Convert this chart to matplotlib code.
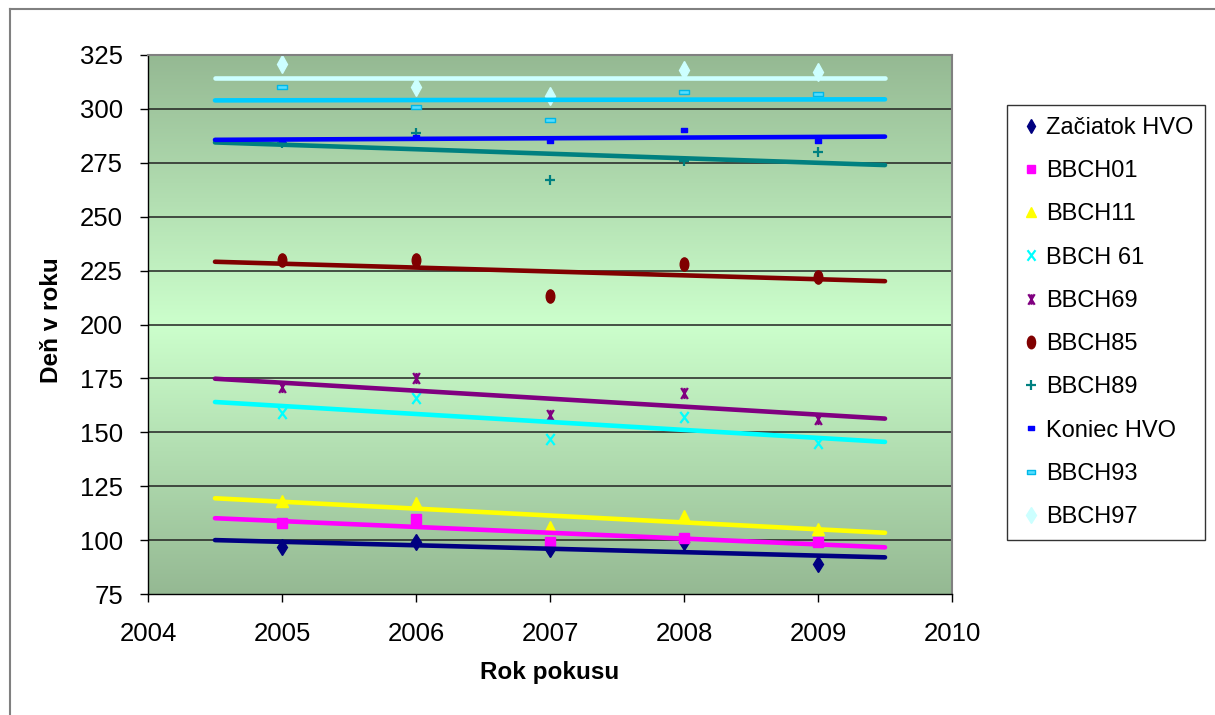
import numpy as np
import matplotlib
matplotlib.use("Agg")
import matplotlib.pyplot as plt
from matplotlib.path import Path
from matplotlib.lines import Line2D
from matplotlib.colors import LinearSegmentedColormap

plt.rcParams['font.family'] = ['Liberation Sans', 'DejaVu Sans']

years = [2005, 2006, 2007, 2008, 2009]

zaciatok_hvo = [97, 99, 96, 99, 89]
bbch01 = [108, 110, 99, 101, 99]
bbch11 = [118, 117, 106, 111, 105]
bbch61 = [159, 166, 147, 157, 145]
bbch69 = [171, 175, 158, 168, 156]
bbch85 = [230, 230, 213, 228, 222]
bbch89 = [284, 289, 267, 276, 280]
koniec_hvo = [285, 287, 285, 290, 285]
bbch93 = [310, 301, 295, 308, 307]
bbch97 = [321, 310, 306, 318, 317]

names = ['Začiatok HVO', 'BBCH01', 'BBCH11', 'BBCH 61', 'BBCH69',
         'BBCH85', 'BBCH89', 'Koniec HVO', 'BBCH93', 'BBCH97']
series = [zaciatok_hvo, bbch01, bbch11, bbch61, bbch69,
          bbch85, bbch89, koniec_hvo, bbch93, bbch97]
colors = ['#000080', '#FF00FF', '#FFFF00', '#00FFFF', '#800080',
          '#800000', '#008080', '#0000FF', '#00CCFF', '#CCFFFF']

x_ticks = [2004, 2005, 2006, 2007, 2008, 2009, 2010]
y_ticks = [75, 100, 125, 150, 175, 200, 225, 250, 275, 300, 325]


# excel-like markers (slightly stretched vertically like in the picture)
def rect(w, h):
    return Path([(-w, -h), (w, -h), (w, h), (-w, h), (-w, -h)],
                [Path.MOVETO, Path.LINETO, Path.LINETO, Path.LINETO, Path.CLOSEPOLY])

M, L = Path.MOVETO, Path.LINETO
star = Path([(-0.6, -1), (0.6, 1), (-0.6, 1), (0.6, -1), (0, -1), (0, 1)], [M, L, M, L, M, L])
cross = Path([(-0.75, -1), (0.75, 1), (-0.75, 1), (0.75, -1)], [M, L, M, L])
circ = Path.unit_circle()
ellipse = Path(circ.vertices * [0.65, 1.0], circ.codes)

styles = [
    dict(marker='d', ms=8, mfc='#000080', mec='#000080'),
    dict(marker='s', ms=6.5, mfc='#FF00FF', mec='#FF00FF'),
    dict(marker='^', ms=8, mfc='#FFFF00', mec='#FFFF00'),
    dict(marker=cross, ms=8, mfc='none', mec='#00FFFF', mew=1.6),
    dict(marker=star, ms=8, mfc='none', mec='#800080', mew=1.6),
    dict(marker=ellipse, ms=9.5, mfc='#800000', mec='#800000'),
    dict(marker='+', ms=7.5, mfc='none', mec='#008080', mew=1.6),
    dict(marker=rect(1, 0.65), ms=4.5, mfc='#0000FF', mec='#0000FF'),
    dict(marker=rect(1, 0.5), ms=6.5, mfc='#55DDFF', mec='#00B8E8', mew=1.0),
    dict(marker='d', ms=9, mfc='#CCFFFF', mec='#CCFFFF'),
]

fig = plt.figure(figsize=(12.15, 7.15), dpi=100)
ax = fig.add_axes([148 / 1215, 1 - 594 / 715, 804 / 1215, 539 / 715])

# gradient background of the plot area
grad = LinearSegmentedColormap.from_list('g', ['#95B993', '#CCFFCC', '#95B993'])
ax.imshow(np.linspace(0, 1, 256).reshape(-1, 1), cmap=grad, aspect='auto',
          extent=[2004, 2010, 75, 325], zorder=0, origin='lower')

for y in y_ticks[1:-1]:
    ax.axhline(y, color='#222222', lw=1.1, zorder=1)

xs = np.array(years)
xt = np.array([2004.5, 2009.5])
for name, vals, col, st in zip(names, series, colors, styles):
    ax.plot(years, vals, linestyle='none', zorder=2, label=name, **st)
    k, q = np.polyfit(xs, vals, 1)
    ax.plot(xt, k * xt + q, color=col, lw=3.3, solid_capstyle='round', zorder=3)

ax.set_xlim(2004, 2010)
ax.set_ylim(75, 325)
ax.set_xticks(x_ticks)
ax.set_yticks(y_ticks)
ax.tick_params(axis='both', direction='out', length=6, width=1, labelsize=18.5, pad=12)
ax.tick_params(axis='x', pad=14)
for s in ['top', 'right']:
    ax.spines[s].set_color('#808080')
    ax.spines[s].set_linewidth(1.5)
for s in ['left', 'bottom']:
    ax.spines[s].set_color('black')
    ax.spines[s].set_linewidth(1)

fig.text(550 / 1215, 1 - 672 / 715, 'Rok pokusu', fontsize=17.5, fontweight='bold',
         ha='center', va='center')
fig.text(52 / 1215, 1 - 320 / 715, 'Deň v roku', fontsize=17.5, fontweight='bold',
         ha='center', va='center', rotation=90)

handles, labels = ax.get_legend_handles_labels()
leg = fig.legend(handles, labels, loc='upper left', bbox_to_anchor=(1007 / 1215, 1 - 105 / 715),
                 fontsize=17, frameon=True, fancybox=False, edgecolor='black',
                 handlelength=1.0, handletextpad=0.15, labelspacing=0.9,
                 borderpad=0.5, markerscale=0.95, borderaxespad=0)
leg.get_frame().set_linewidth(1)

# outer chart border
fig.add_artist(Line2D([10 / 1215, 10 / 1215], [0, 1 - 9 / 715], color='#808080', lw=1.5,
                      transform=fig.transFigure))
fig.add_artist(Line2D([10 / 1215, 1], [1 - 9 / 715, 1 - 9 / 715], color='#808080', lw=1.5,
                      transform=fig.transFigure))

fig.savefig('out.png', dpi=100)
